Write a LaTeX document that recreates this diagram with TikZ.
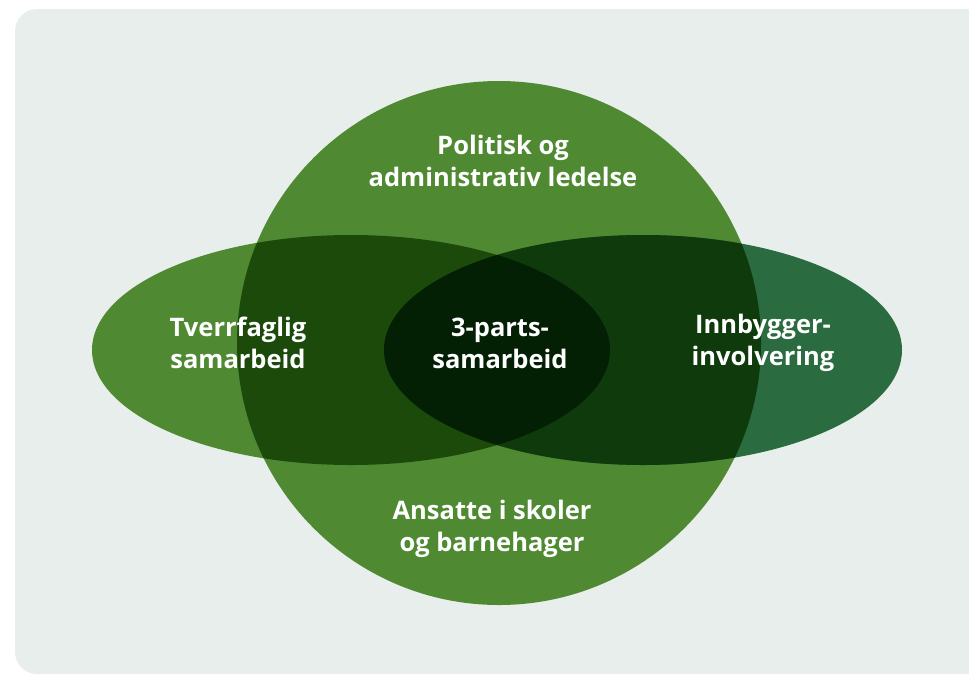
\documentclass[tikz,border=0pt]{standalone}
\usepackage{fontspec}
\setmainfont{Open Sans}
\definecolor{bgc}{HTML}{E8EEEB}
\definecolor{gmain}{HTML}{4F8A32}
\definecolor{gright}{HTML}{2A6B40}
\definecolor{gleftc}{HTML}{1B4A0B}
\definecolor{grightc}{HTML}{0E3A0C}
\definecolor{gcenter}{HTML}{032005}
\begin{document}
\begin{tikzpicture}[x=1pt,y=-1pt,
  lbl/.style={text=white,font=\fontsize{25.5}{32}\selectfont\bfseries,align=center,inner sep=0pt}]
\useasboundingbox (0,0) rectangle (969,675);
\clip (0,0) rectangle (969,675);
\fill[bgc,rounded corners=22pt] (15,9) rectangle (1010,674);
% shapes
\fill[gmain] (499,343) circle[radius=262];
\fill[gmain] (351,350) ellipse[x radius=259,y radius=115];
\fill[gright] (643,350) ellipse[x radius=259,y radius=115];
\begin{scope}
  \clip (499,343) circle[radius=262];
  \fill[gleftc] (351,350) ellipse[x radius=259,y radius=115];
  \fill[grightc] (643,350) ellipse[x radius=259,y radius=115];
  \clip (351,350) ellipse[x radius=259,y radius=115];
  \fill[gcenter] (643,350) ellipse[x radius=259,y radius=115];
\end{scope}
% labels
\node[lbl] (top) at (503,161) {Politisk og\\administrativ ledelse};
\node[lbl] (left) at (238,343) {Tverrfaglig\\samarbeid};
\node[lbl] (mid) at (500,343) {3-parts-\\samarbeid};
\node[lbl] (right) at (763,343) {Innbygger-\\involvering};
\node[lbl] (bot) at (492,529) {Ansatte i skoler\\og barnehager};
\end{tikzpicture}
\end{document}
